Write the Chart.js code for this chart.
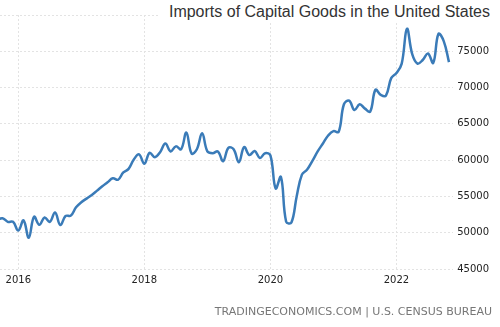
<!DOCTYPE html>
<html>
<head>
<meta charset="utf-8">
<script src="https://cdn.jsdelivr.net/npm/chart.js@4/dist/chart.umd.min.js"></script>
<style>
  html, body { margin: 0; padding: 0; background: #fff; }
  #wrap { position: relative; width: 500px; height: 327px; overflow: hidden; }
  #title {
    position: absolute; right: 10px; top: 3px;
    font: 16px "Liberation Sans", Arial, sans-serif; color: #333;
    background: #fff; padding-left: 10px; white-space: nowrap;
  }
  #source {
    position: absolute; right: 8px; top: 305px;
    font: 11px "DejaVu Sans", sans-serif; color: #777; white-space: nowrap;
  }
</style>
</head>
<body>
<div id="wrap">
  <canvas id="chart" width="500" height="327"></canvas>
  <div id="title">Imports of Capital Goods in the United States</div>
  <div id="source">TRADINGECONOMICS.COM | U.S. CENSUS BUREAU</div>
</div>
<script>
// Monthly imports of capital goods (USD million), Aug 2015 - Nov 2022
const startYear = 2015;
const startMonth = 8;
const imports = [
    51800, 51800, 52000, 51500, 51500,                                              // 2015 Aug-Dec
    50300, 51700, 49300, 52200, 51100, 52100, 51500, 52800, 51050, 52300, 52350, 53500, // 2016
    54200, 54700, 55200, 55800, 56400, 56950, 57500, 57300, 58300, 58800, 60100, 60800, // 2017
    59500, 61000, 60400, 61100, 62300, 61200, 61900, 61500, 63800, 60900, 61500, 63700, // 2018
    61200, 60950, 61200, 59850, 61700, 61500, 59700, 61800, 60700, 61250, 60300, 60950, // 2019
    60650, 56100, 57700, 51500, 51400, 55000, 58000, 58700, 59900, 61200, 62300, 63400, // 2020
    64000, 63900, 67700, 68200, 66900, 67700, 67100, 66700, 69700, 69000, 68900, 71300, // 2021
    72000, 73300, 78100, 74600, 73300, 73800, 74700, 73400, 77400, 76400, 73500         // 2022 Jan-Nov
];
const xTicks = [2016, 2018, 2020, 2022];
const yTicks = [45000, 50000, 55000, 60000, 65000, 70000, 75000, 80000];
const xMin = 2015.71;
const xMax = 2022.9;

// Build points: x as decimal year
const points = imports.map((v, i) => {
    const m = startMonth - 1 + i;
    return { x: startYear + m / 12, y: v };
});

const tickFont = { family: 'DejaVu Sans', size: 10 };
const gridColor = '#e3e3e3';

new Chart(document.getElementById('chart'), {
    type: 'line',
    data: {
        datasets: [{
            label: 'Imports of Capital Goods',
            data: points,
            borderColor: '#3a7bb8',
            borderWidth: 2.5,
            pointRadius: 0,
            tension: 0.4,
            fill: false
        }]
    },
    options: {
        responsive: false,
        animation: false,
        devicePixelRatio: 1,
        layout: { padding: { left: 0, right: 7, top: 15, bottom: 36 } },
        plugins: {
            legend: { display: false },
            tooltip: { enabled: false }
        },
        scales: {
            x: {
                type: 'linear',
                min: xMin,
                max: xMax,
                afterBuildTicks: axis => { axis.ticks = xTicks.map(v => ({ value: v })); },
                ticks: {
                    font: tickFont,
                    color: '#222',
                    padding: 5,
                    maxRotation: 0,
                    callback: v => String(v)
                },
                grid: { color: gridColor, drawTicks: false },
                border: { display: false, dash: [2, 2] }
            },
            y: {
                position: 'right',
                min: 45000,
                max: 80000,
                afterBuildTicks: axis => { axis.ticks = yTicks.map(v => ({ value: v })); },
                ticks: {
                    font: tickFont,
                    color: '#222',
                    padding: 4,
                    callback: v => (v === 80000 ? '' : String(v))
                },
                grid: { color: gridColor, drawTicks: false },
                border: { display: false, dash: [2, 2] }
            }
        }
    }
});
</script>
</body>
</html>
